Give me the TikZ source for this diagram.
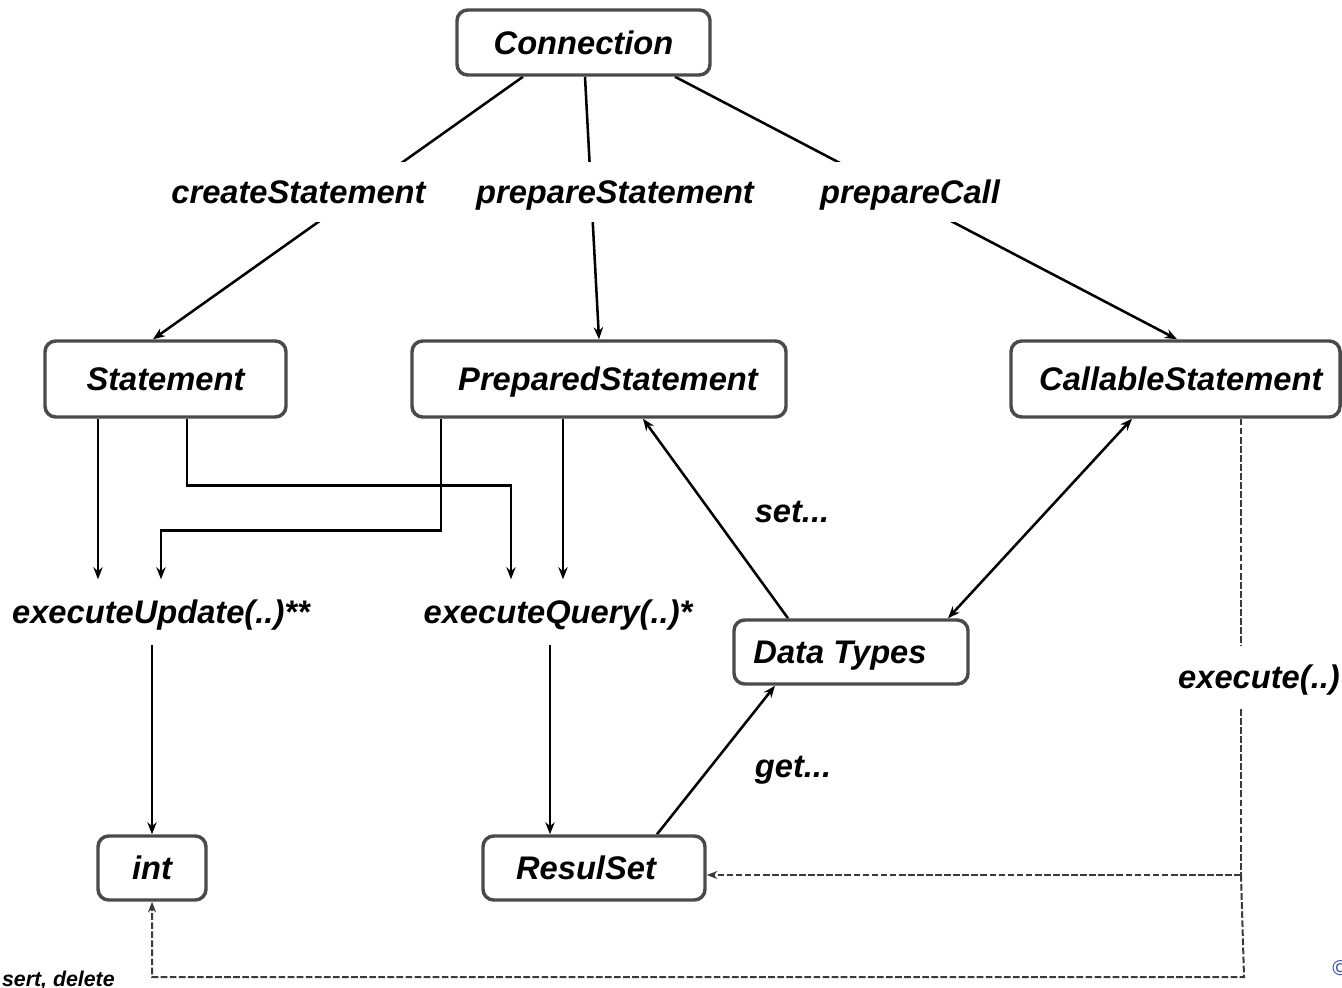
\documentclass[tikz,border=0pt]{standalone}
\usepackage{fontspec}
\setmainfont{Liberation Sans}
\usetikzlibrary{arrows.meta}
\pgfdeclarelayer{bg}
\pgfsetlayers{bg,main}
\definecolor{boxgray}{HTML}{4A4A4A}
\definecolor{dashgray}{HTML}{3A3A3A}
\definecolor{copyblue}{HTML}{2A3FC0}
\begin{document}
\begin{tikzpicture}[x=0.75pt,y=-0.75pt,
  txt/.style={font=\fontsize{24.5}{28}\selectfont\bfseries\itshape, text height=17.6pt, text depth=0pt},
  box/.style={txt, draw=boxgray, line width=2.6pt, rounded corners=8pt, fill=white, inner sep=0pt},
  lbl/.style={txt, inner xsep=2pt, inner ysep=0pt},
  gaplbl/.style={lbl, fill=white},
  ln/.style={line width=1.9pt, black},
  arr/.style={ln, -{Stealth[length=9pt,width=7pt]}},
  dashline/.style={draw=dashgray, line width=1.5pt, dash pattern=on 5pt off 1.8pt},
  darr/.style={dashline, -{Stealth[length=8pt,width=6pt]}}
]
\useasboundingbox (0,0) rectangle (1342,988);
\clip (0,0) rectangle (1342,988);

% boxes
\node[box, minimum width=189.75pt, minimum height=48.75pt] (conn) at (583.5,42.5) {Connection};
\node[box, minimum width=180.75pt, minimum height=57pt] (stmt) at (165.5,379) {Statement};
\node[box, minimum width=280.5pt, minimum height=57pt] (pstmt) at (599,379) {\kern13.5pt PreparedStatement};
\node[box, minimum width=246.75pt, minimum height=57pt] (cstmt) at (1175.5,379) {\kern8pt CallableStatement};
\node[box, minimum width=175.5pt, minimum height=48pt] (dt) at (851,652) {Data Types\kern16.5pt};
\node[box, minimum width=81pt, minimum height=48pt] (int) at (152,868) {int};
\node[box, minimum width=166.5pt, minimum height=48pt] (rs) at (594,868) {ResulSet\kern12pt};

% labels
\node[gaplbl, minimum height=45pt] (cs) at (298.5,192) {createStatement};
\node[gaplbl, minimum height=45pt] (ps) at (615,192) {prepareStatement};
\node[gaplbl, minimum height=45pt] (pc) at (910,192) {prepareCall};
\node[lbl, minimum height=48.75pt] (eu) at (161,612) {executeUpdate(..)**};
\node[lbl, minimum height=48.75pt] (eq) at (558,612) {executeQuery(..)*};
\node[lbl] (set) at (792,511) {set...};
\node[lbl] (get) at (793,766) {get...};
\node[gaplbl, minimum height=47pt] (ex) at (1259,677) {execute(..)};
\node[font=\fontsize{16}{18}\selectfont\bfseries\itshape, anchor=east, inner sep=0pt, text height=11.5pt, text depth=0pt] (ins) at (115,979) {sert, delete};
\node[font=\fontsize{16}{18}\selectfont, text=copyblue, anchor=west, inner sep=0pt] (copy) at (1332,968) {©};

\coordinate (j) at (1241,875);

\begin{pgfonlayer}{bg}
  % from Connection
  \draw[arr] (conn.south -| 523,0) -- (stmt.north -| 153,0);
  \draw[arr] (conn.south -| 585,0) -- (pstmt.north -| 599,0);
  \draw[arr] (conn.south -| 675,0) -- (cstmt.north -| 1177,0);
  % to executeUpdate / executeQuery
  \draw[arr] (stmt.south -| 98,0) -- (eu.north -| 98,0);
  \draw[arr] (stmt.south -| 187,0) -- ++(0,67) -| (eq.north -| 511,0);
  \draw[arr] (pstmt.south -| 441,0) -- ++(0,112) -| (eu.north -| 161,0);
  \draw[arr] (pstmt.south -| 563,0) -- (eq.north -| 563,0);
  % results
  \draw[arr] (eu.south -| 152,0) -- (int.north);
  \draw[arr] (eq.south -| 550,0) -- (rs.north -| 550,0);
  % data types
  \draw[arr] (dt.north -| 788,0) -- (pstmt.south -| 643,0);
  \draw[ln, {Stealth[length=9pt,width=7pt]}-{Stealth[length=9pt,width=7pt]}] (cstmt.south -| 1132,0) -- (dt.north -| 948,0);
  \draw[arr] (rs.north -| 657,0) -- (dt.south -| 775,0);
  % execute(..) dashed
  \draw[dashline] (cstmt.south -| 1241,0) -- (j);
  \draw[darr] (j) -- (rs.east |- j);
  \draw[darr] (j) -- (1244,977) -- (int.south |- 0,977) -- (int.south);
\end{pgfonlayer}
\end{tikzpicture}
\end{document}
